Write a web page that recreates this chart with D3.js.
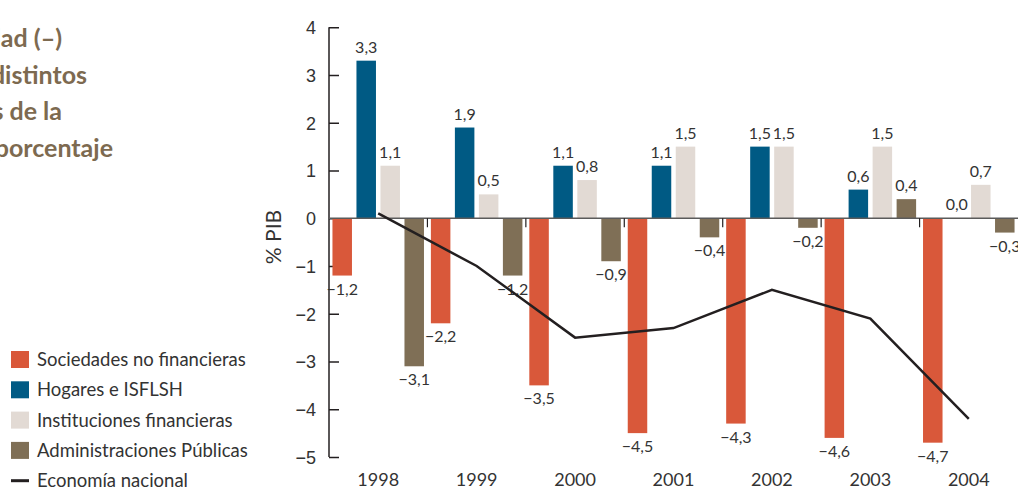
<!DOCTYPE html>
<html>
<head>
<meta charset="utf-8">
<script src="https://cdn.jsdelivr.net/npm/d3@7"></script>
<style>
    body { margin: 0; background: #fff; }
    svg { display: block; font-family: Lato, "Open Sans", sans-serif; }
</style>
</head>
<body>
<div id="chart-area"></div>
<script>
//Data
var years = ["1998", "1999", "2000", "2001", "2002", "2003", "2004"];
var sociedades = [-1.2, -2.2, -3.5, -4.5, -4.3, -4.6, -4.7];
var hogares = [3.3, 1.9, 1.1, 1.1, 1.5, 0.6, 0.0];
var instituciones = [1.1, 0.5, 0.8, 1.5, 1.5, 1.5, 0.7];
var administraciones = [-3.1, -1.2, -0.9, -0.4, -0.2, 0.4, -0.3];
var economia = [0.1, -1.0, -2.5, -2.3, -1.5, -2.1, -4.2];
var yTicks = [4, 3, 2, 1, 0, -1, -2, -3, -4, -5];
var seriesNames = ["Sociedades no financieras", "Hogares e ISFLSH", "Instituciones financieras", "Administraciones Públicas"];
var lineName = "Economía nacional";
var titleLines = ["Capacidad (+) o necesidad (–)", "de financiación de los distintos", "sectores institucionales de la", "economía. En porcentaje"];

var seriesValues = [sociedades, hogares, instituciones, administraciones];
var colors = ["#d9583a", "#005a84", "#e2dad4", "#7f6f56"];

var width = 1018, height = 489;

var svg = d3.select("#chart-area")
    .append("svg")
    .attr("width", width)
    .attr("height", height);

// Scales
var xScale = d3.scaleBand()
    .domain(years)
    .range([329, 1018])
    .padding(0);

var xInner = d3.scaleBand()
    .domain(d3.range(seriesValues.length))
    .range([0, xScale.bandwidth()])
    .paddingInner(0.1875)
    .paddingOuter(0.144);

var yScale = d3.scaleLinear()
    .domain([-5, 4])
    .range([457, 27.25]);

var fmt = function(v) {
    return (v < 0 ? "\u2212" : "") + Math.abs(v).toFixed(1).replace(".", ",");
};

// Title (clipped on the left, as in the source page)
var titleX = [62, 87, 62, 113];
svg.append("g")
    .selectAll("text")
    .data(titleLines)
    .enter()
    .append("text")
    .attr("x", function(d, i) { return titleX[i]; })
    .attr("y", function(d, i) { return 47 + i * 36.5; })
    .attr("text-anchor", "end")
    .style("font-size", "25px")
    .style("font-weight", "bold")
    .style("fill", "#7d6a50")
    .text(function(d) { return d; });

// y axis
var yAxis = d3.axisRight(yScale)
    .tickValues(yTicks)
    .tickSize(10)
    .tickFormat(function(d) { return d < 0 ? "\u2212" + Math.abs(d) : d; });

var yAxisG = svg.append("g")
    .attr("transform", "translate(329,0)")
    .call(yAxis);

yAxisG.select(".domain").remove();
yAxisG.append("line")
    .attr("x1", 0).attr("x2", 0)
    .attr("y1", yScale(4)).attr("y2", yScale(-5))
    .attr("stroke", "#231f20")
    .attr("stroke-width", 1.5);
yAxisG.selectAll(".tick line")
    .attr("stroke", "#231f20")
    .attr("stroke-width", 1.5);
yAxisG.selectAll(".tick text")
    .attr("x", -13)
    .attr("dy", "0.35em")
    .attr("text-anchor", "end")
    .style("font-size", "18px")
    .style("fill", "#333");

svg.append("text")
    .attr("transform", "translate(281,237) rotate(-90)")
    .attr("text-anchor", "middle")
    .style("font-size", "21px")
    .style("fill", "#333")
    .text("% PIB");

// Bars
var groups = svg.selectAll(".year")
    .data(years)
    .enter()
    .append("g")
    .attr("class", "year")
    .attr("transform", function(d) { return "translate(" + xScale(d) + ",0)"; });

groups.selectAll("rect")
    .data(function(d, i) {
        return seriesValues.map(function(s, k) { return { k: k, v: s[i] }; });
    })
    .enter()
    .append("rect")
    .attr("x", function(d) { return xInner(d.k); })
    .attr("width", xInner.bandwidth())
    .attr("y", function(d) { return yScale(Math.max(0, d.v)); })
    .attr("height", function(d) { return Math.abs(yScale(d.v) - yScale(0)); })
    .attr("fill", function(d) { return colors[d.k]; });

// Zero line and year separators
svg.append("line")
    .attr("x1", 329).attr("x2", 1018)
    .attr("y1", yScale(0)).attr("y2", yScale(0))
    .attr("stroke", "#5a5a5a")
    .attr("stroke-width", 1.5);

svg.selectAll(".sep")
    .data(years.slice(1))
    .enter()
    .append("line")
    .attr("class", "sep")
    .attr("x1", function(d) { return xScale(d); })
    .attr("x2", function(d) { return xScale(d); })
    .attr("y1", yScale(0))
    .attr("y2", yScale(0) + 9)
    .attr("stroke", "#231f20")
    .attr("stroke-width", 1.2);

// Economía nacional line
var line = d3.line()
    .x(function(d, i) { return xScale(years[i]) + xScale.bandwidth() / 2; })
    .y(function(d) { return yScale(d); });

svg.append("path")
    .datum(economia)
    .attr("d", line)
    .attr("fill", "none")
    .attr("stroke", "#231f20")
    .attr("stroke-width", 2.5);

// Value labels
groups.selectAll(".val")
    .data(function(d, i) {
        return seriesValues.map(function(s, k) { return { k: k, v: s[i] }; });
    })
    .enter()
    .append("text")
    .attr("class", "val")
    .attr("x", function(d) { return xInner(d.k) + xInner.bandwidth() / 2; })
    .attr("y", function(d) {
        return d.v < 0 ? yScale(d.v) + 19 : yScale(d.v) - 8;
    })
    .attr("text-anchor", "middle")
    .style("font-size", "16px")
    .style("fill", "#333")
    .text(function(d) { return fmt(d.v); });

// x labels
svg.selectAll(".xlab")
    .data(years)
    .enter()
    .append("text")
    .attr("class", "xlab")
    .attr("x", function(d) { return xScale(d) + xScale.bandwidth() / 2; })
    .attr("y", 486)
    .attr("text-anchor", "middle")
    .style("font-size", "18px")
    .style("fill", "#333")
    .text(function(d) { return d; });

// Legend
var legend = svg.append("g").attr("class", "legend");
seriesNames.forEach(function(name, i) {
    var cy = 359.5 + i * 30.3;
    legend.append("rect")
        .attr("x", 11).attr("y", cy - 8.5)
        .attr("width", 18).attr("height", 17)
        .attr("fill", colors[i]);
    legend.append("text")
        .attr("x", 37).attr("y", cy + 6.5)
        .style("font-size", "18.5px")
        .style("fill", "#333")
        .text(name);
});
var ly = 359.5 + 4 * 30.3;
legend.append("line")
    .attr("x1", 11).attr("x2", 29)
    .attr("y1", ly).attr("y2", ly)
    .attr("stroke", "#231f20")
    .attr("stroke-width", 3);
legend.append("text")
    .attr("x", 37).attr("y", ly + 6.5)
    .style("font-size", "18.5px")
    .style("fill", "#333")
    .text(lineName);
</script>
</body>
</html>
